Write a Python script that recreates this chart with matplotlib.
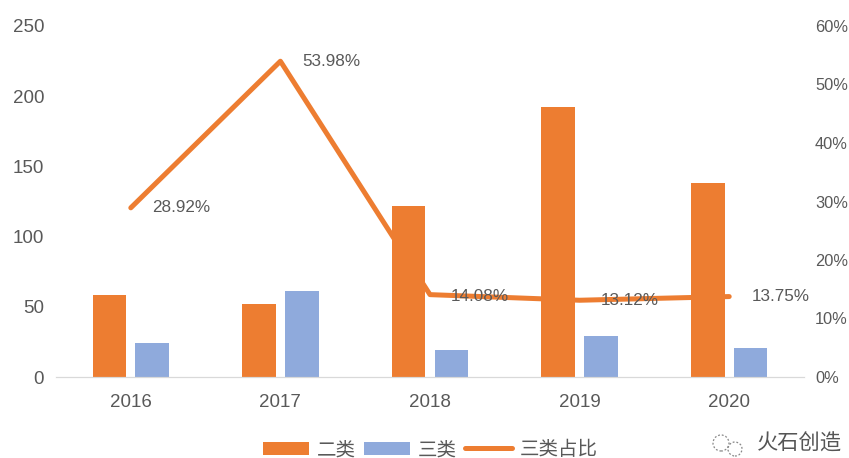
"""Bars and share line, 2016-2020."""
import matplotlib

matplotlib.use("Agg")
import matplotlib.pyplot as plt
import numpy as np
from matplotlib.patches import Ellipse

plt.rcParams["font.family"] = ["Liberation Sans", "Noto Sans CJK SC", "DejaVu Sans"]

years = ["2016", "2017", "2018", "2019", "2020"]
class_two = [58.5, 52, 122, 192, 138]
class_three = [24, 61, 19, 29, 21]
share = [28.92, 53.98, 14.08, 13.12, 13.75]
share_labels = ["28.92%", "53.98%", "14.08%", "13.12%", "13.75%"]
label_offsets = [(15.5, 0), (16, 0), (15, -1), (15, 0), (16, 0)]

ORANGE = "#ed7d31"
BLUE = "#8faadc"
GREY = "#595959"

fig = plt.figure(figsize=(8.49, 4.58), dpi=100)
ax = fig.add_axes([56 / 849, 1 - 377 / 458, (804 - 56) / 849, (377 - 26) / 458])
ax2 = ax.twinx()

x = np.arange(len(years))
w = 0.225
ax.bar(x - 0.143, class_two, w, color=ORANGE, label="二类")
ax.bar(x + 0.143, class_three, w, color=BLUE, label="三类")
ax.set_xlim(-0.5, 4.5)
ax.set_ylim(0, 250)
ax.set_xticks(x, years)
ax.set_yticks(range(0, 251, 50))

ax2.plot(x, share, color=ORANGE, lw=3.6, label="三类占比", solid_capstyle="round")
ax2.set_ylim(0, 60)
ax2.set_yticks(range(0, 61, 10), [f"{v}%" for v in range(0, 61, 10)])

for xi, yi, text, off in zip(x, share, share_labels, label_offsets):
    ax2.annotate(text, (xi, yi), xytext=off, textcoords="offset points",
                 fontsize=12.3, color=GREY, va="center")

for a in (ax, ax2):
    for s in ("top", "left", "right"):
        a.spines[s].set_visible(False)
    a.spines["bottom"].set_color("#d9d9d9")
    a.tick_params(length=0, labelsize=13.5, labelcolor=GREY)
ax.tick_params(axis="x", pad=12)
ax.tick_params(axis="y", pad=8.5)
ax2.tick_params(axis="y", labelsize=11.8, pad=8)

h1, l1 = ax.get_legend_handles_labels()
h2, l2 = ax2.get_legend_handles_labels()
fig.legend(h1 + h2, l1 + l2, loc="center", bbox_to_anchor=(430 / 849, 1 - 450 / 458),
           ncol=3, frameon=False, fontsize=14, labelcolor=GREY,
           handlelength=2.4, columnspacing=0.4, handletextpad=0.4, borderpad=0)

# watermark icon and name
for cx, cy, r in [(721, 443, 8), (735, 449, 7)]:
    fig.add_artist(Ellipse((cx / 849, 1 - cy / 458), 2 * r / 849, 2 * r / 458,
                           transform=fig.transFigure, fill=False, ec="#888888",
                           lw=0.9, ls=(0, (1.5, 1.5))))
fig.text(842 / 849, 1 - 444 / 458, "火石创造", ha="right", va="center",
         fontsize=15.3, color="#555555")

fig.savefig("out.png", dpi=100)
plt.close(fig)
